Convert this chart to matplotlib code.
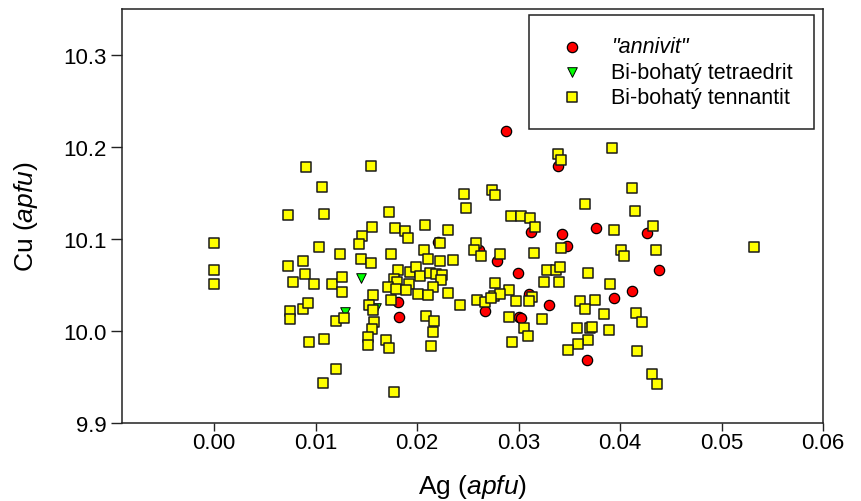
import numpy as np
import matplotlib.pyplot as plt

plt.rcParams['font.family'] = ['Liberation Sans', 'DejaVu Sans']
plt.rcParams['mathtext.fontset'] = 'custom'
plt.rcParams['mathtext.rm'] = 'Liberation Sans'
plt.rcParams['mathtext.it'] = 'Liberation Sans:italic'

# "annivit"
ag_annivit = [0.0288, 0.0339, 0.0312, 0.0343, 0.0348, 0.0376, 0.0427, 0.0438,
              0.0279, 0.0261, 0.0299, 0.0310, 0.0330, 0.0267, 0.0300, 0.0302,
              0.0394, 0.0412, 0.0367, 0.0181, 0.0182, 0.0221]
cu_annivit = [10.218, 10.180, 10.108, 10.106, 10.093, 10.112, 10.107, 10.066,
              10.076, 10.088, 10.063, 10.040, 10.028, 10.022, 10.015, 10.014,
              10.036, 10.044, 9.969, 10.032, 10.015, 10.097]

# Bi-bohaty tetraedrit
ag_tetra = [0.0145, 0.0129, 0.0160]
cu_tetra = [10.058, 10.021, 10.025]

# Bi-bohaty tennantit
ag_tenn = [0.0000, 0.0000, 0.0000,
           0.0073, 0.0073, 0.0075, 0.0075, 0.0078, 0.0088, 0.0090, 0.0088,
           0.0091, 0.0093, 0.0094, 0.0098, 0.0103, 0.0106, 0.0108, 0.0107,
           0.0108, 0.0116, 0.0120, 0.0120, 0.0124, 0.0126, 0.0126, 0.0128,
           0.0155, 0.0172, 0.0156, 0.0178, 0.0188, 0.0191, 0.0146, 0.0143,
           0.0174, 0.0208, 0.0230, 0.0246, 0.0248, 0.0223, 0.0207, 0.0211,
           0.0223, 0.0235, 0.0145, 0.0155, 0.0181, 0.0193, 0.0199, 0.0203,
           0.0213, 0.0219, 0.0225, 0.0224, 0.0177, 0.0180, 0.0192, 0.0171,
           0.0179, 0.0189, 0.0216, 0.0201, 0.0211, 0.0230, 0.0157, 0.0174,
           0.0242, 0.0153, 0.0157, 0.0209, 0.0217, 0.0158, 0.0216, 0.0156,
           0.0152, 0.0152, 0.0169, 0.0172, 0.0214, 0.0177,
           0.0339, 0.0342, 0.0392, 0.0412, 0.0274, 0.0277, 0.0365, 0.0415,
           0.0293, 0.0302, 0.0311, 0.0316, 0.0394, 0.0432, 0.0258, 0.0256,
           0.0263, 0.0282, 0.0315, 0.0342, 0.0401, 0.0404, 0.0435, 0.0328,
           0.0337, 0.0341, 0.0325, 0.0340, 0.0368, 0.0277, 0.0291, 0.0259,
           0.0267, 0.0276, 0.0282, 0.0273, 0.0297, 0.0313, 0.0310, 0.0361,
           0.0375, 0.0365, 0.0390, 0.0384, 0.0416, 0.0422, 0.0291, 0.0305,
           0.0309, 0.0323, 0.0358, 0.0370, 0.0372, 0.0389, 0.0368, 0.0359,
           0.0349, 0.0294, 0.0417, 0.0431, 0.0436, 0.0532]
cu_tenn = [10.096, 10.067, 10.051,
           10.126, 10.071, 10.022, 10.013, 10.054, 10.076, 10.062, 10.024,
           10.178, 10.031, 9.988, 10.051, 10.091, 10.157, 10.127, 9.944,
           9.992, 10.051, 10.011, 9.959, 10.084, 10.059, 10.043, 10.014,
           10.179, 10.130, 10.113, 10.112, 10.109, 10.101, 10.103, 10.095,
           10.084, 10.115, 10.110, 10.149, 10.134, 10.096, 10.088, 10.078,
           10.076, 10.077, 10.078, 10.074, 10.066, 10.064, 10.070, 10.060,
           10.063, 10.062, 10.061, 10.056, 10.057, 10.053, 10.051, 10.048,
           10.046, 10.045, 10.048, 10.040, 10.039, 10.042, 10.039, 10.034,
           10.028, 10.028, 10.023, 10.017, 10.011, 10.010, 9.999, 10.002,
           9.994, 9.985, 9.990, 9.982, 9.984, 9.934,
           10.193, 10.186, 10.199, 10.156, 10.153, 10.148, 10.138, 10.131,
           10.125, 10.125, 10.123, 10.113, 10.110, 10.114, 10.096, 10.088,
           10.082, 10.084, 10.085, 10.090, 10.088, 10.082, 10.088, 10.067,
           10.067, 10.070, 10.054, 10.054, 10.063, 10.052, 10.045, 10.034,
           10.032, 10.038, 10.040, 10.036, 10.033, 10.037, 10.033, 10.033,
           10.034, 10.024, 10.051, 10.019, 10.020, 10.010, 10.015, 10.004,
           9.995, 10.013, 10.003, 10.003, 10.005, 10.001, 9.990, 9.986,
           9.980, 9.988, 9.979, 9.953, 9.943, 10.091]

xticks = [0.00, 0.01, 0.02, 0.03, 0.04, 0.05, 0.06]
yticks = [9.9, 10.0, 10.1, 10.2, 10.3]

fig = plt.figure(figsize=(8.62, 5.02), dpi=100)
ax = fig.add_axes([0.1412, 0.1548, 0.8136, 0.8253])

ax.scatter(ag_annivit, cu_annivit, s=55, marker='o', c='#ff0000',
           edgecolors='black', linewidths=0.9, zorder=2, label='"annivit"')
ax.scatter(ag_tetra, cu_tetra, s=48, marker='v', c='#00ff00',
           edgecolors='black', linewidths=0.7, zorder=3, label='Bi-bohatý tetraedrit')
ax.scatter(ag_tenn, cu_tenn, s=44, marker='s', c='#ffff00',
           edgecolors='#1a1a1a', linewidths=1.1, zorder=4, label='Bi-bohatý tennantit')

ax.set_xlim(-0.0091, 0.060)
ax.set_ylim(9.9, 10.35)
ax.set_xticks(xticks)
ax.set_xticklabels(['%.2f' % v for v in xticks])
ax.set_yticks(yticks)
ax.set_yticklabels(['%.1f' % v for v in yticks])
ax.tick_params(direction='out', width=1, labelsize=16, color='#222222')
ax.tick_params(axis='x', length=6, pad=0)
ax.tick_params(axis='y', length=8, pad=3)

for sp in ax.spines.values():
    sp.set_linewidth(1.1)
    sp.set_color('#222222')

ax.set_xlabel('Ag ($\\mathit{apfu}$)', fontsize=19)
ax.set_ylabel('Cu ($\\mathit{apfu}$)', fontsize=19)
ax.xaxis.set_label_coords(0.5, -0.151)
ax.xaxis.label.set_va('center')
ax.yaxis.set_label_coords(-0.1365, 0.5)
ax.yaxis.label.set_va('center')

leg = ax.legend(loc='upper right', bbox_to_anchor=(0.987, 0.986), borderaxespad=0,
                fontsize=15.5, frameon=True, fancybox=False, framealpha=1,
                edgecolor='#222222', borderpad=1.0, handlelength=2.0,
                handletextpad=0.8, labelspacing=0.2, scatterpoints=1)
leg.get_frame().set_linewidth(1.1)
leg.get_texts()[0].set_fontstyle('italic')

fig.savefig('out.png', dpi=100)
